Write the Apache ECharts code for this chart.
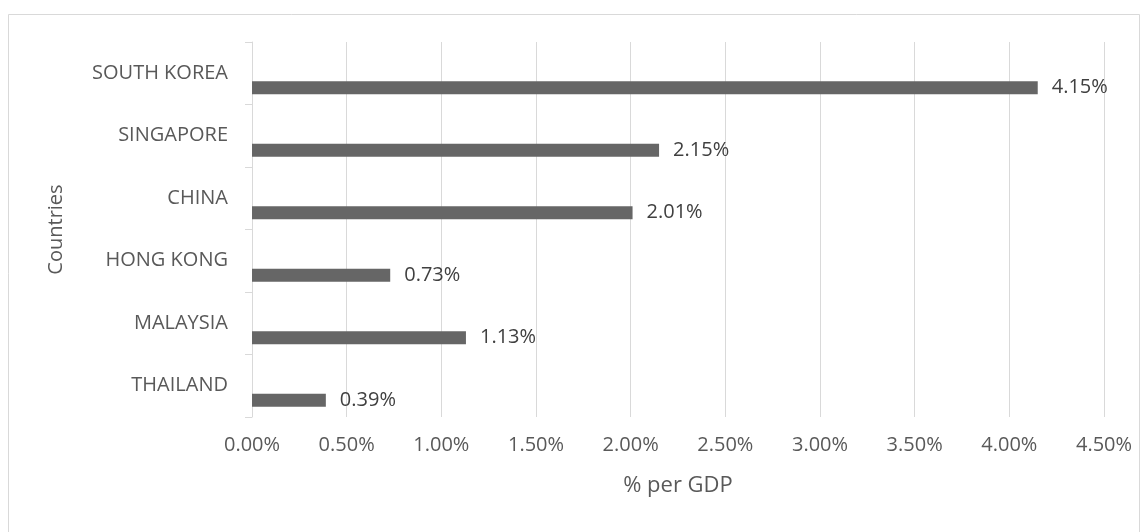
<!DOCTYPE html>
<html>
<head>
<meta charset="utf-8">
<script src="https://cdn.jsdelivr.net/npm/echarts@6/dist/echarts.min.js"></script>
<style>html,body{margin:0;padding:0;background:#fff}#c{width:1147px;height:532px}</style>
</head>
<body>
<div id="c"></div>
<script>
const categories = ['THAILAND', 'MALAYSIA', 'HONG KONG', 'CHINA', 'SINGAPORE', 'SOUTH KOREA'];
const values = [0.39, 1.13, 0.73, 2.01, 2.15, 4.15];
const placeholder = ['-', '-', '-', '-', '-', '-'];
const xTicks = { min: 0, max: 4.5, interval: 0.5 };

const chart = echarts.init(document.getElementById('c'), null, { renderer: 'canvas' });
const font = '"Open Sans", "Liberation Sans", sans-serif';
chart.setOption({
  animation: false,
  backgroundColor: '#ffffff',
  graphic: [{
    type: 'rect', shape: { x: 8.5, y: 14.5, width: 1131, height: 530 },
    style: { fill: 'none', stroke: '#d9d9d9', lineWidth: 1 }, silent: true, z: -1
  }],
  grid: { left: 252, right: 43, top: 42, bottom: 115, containLabel: false },
  xAxis: {
    type: 'value', min: xTicks.min, max: xTicks.max, interval: xTicks.interval,
    name: '% per GDP', nameLocation: 'middle', nameGap: 58,
    nameTextStyle: { fontFamily: font, fontSize: 22, color: '#595959' },
    axisLine: { show: false }, axisTick: { show: false },
    axisLabel: { fontFamily: font, fontSize: 20, color: '#595959', margin: 18,
      formatter: v => v.toFixed(2) + '%' },
    splitLine: { show: true, lineStyle: { color: '#d9d9d9', width: 1 } }
  },
  yAxis: {
    type: 'category', data: categories,
    name: 'Countries', nameLocation: 'middle', nameGap: 186, nameRotate: 90,
    nameTextStyle: { fontFamily: font, fontSize: 20, color: '#595959' },
    axisLine: { show: true, lineStyle: { color: '#d9d9d9', width: 1 } },
    axisTick: { show: true, length: 7, lineStyle: { color: '#d9d9d9' } },
    axisLabel: { fontFamily: font, fontSize: 20, color: '#595959', margin: 24 }
  },
  series: [
    { type: 'bar', data: placeholder, barWidth: 13, barGap: '123%', itemStyle: { color: 'transparent' } },
    {
      type: 'bar', data: values, barWidth: 13, barGap: '123%',
      itemStyle: { color: '#666666' },
      label: { show: true, position: 'right', distance: 14, fontFamily: font, fontSize: 20,
        color: '#404040', formatter: p => p.value.toFixed(2) + '%' }
    }
  ]
});
</script>
</body>
</html>
